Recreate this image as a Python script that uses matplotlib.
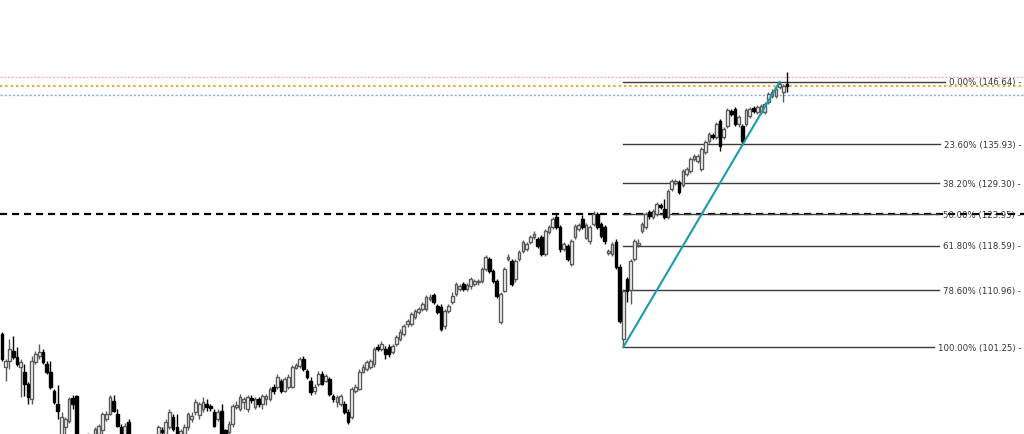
import matplotlib
matplotlib.use("Agg")
import matplotlib.pyplot as plt
import matplotlib.transforms as mtransforms
import numpy as np

opens = [103.47, 97.83, 98.86, 100.57, 99.54, 97.83, 96.98, 94.92, 92.35, 98.69,
         99.71, 100.4, 98.35, 96.98, 93.72, 91.5, 86.19, 87.55, 88.59, 92.52,
         92.86, 84.13, 85.16, 83.79, 84.65, 85.84, 86.36, 87.04, 88.93, 89.78,
         92.01, 89.78, 87.55, 86.19, 88.42, 85.84, 84.47, 83.45, 84.47, 82.93,
         84.3, 85.16, 86.36, 87.04, 86.36, 87.55, 89.27, 87.55, 85.5, 86.36,
         87.55, 88.93, 90.13, 89.61, 90.64, 91.5, 91.16, 90.13, 88.93, 90.3,
         87.04, 86.7, 88.07, 90.98, 90.64, 91.84, 90.64, 92.52, 90.98, 92.35,
         91.5, 92.35, 92.35, 94.4, 94.4, 95.43, 93.72, 94.4, 94.4, 97.66,
         98.0, 99.2, 97.15, 95.43, 93.72, 94.92, 96.63, 95.43, 95.77, 92.86,
         91.84, 91.5, 91.5, 90.13, 89.27, 93.72, 94.06, 96.98, 97.49, 97.83,
         98.35, 101.25, 100.91, 100.91, 101.25, 100.4, 101.76, 102.62, 103.47, 105.2,
         105.2, 106.39, 107.25, 107.76, 107.76, 109.47, 110.15, 108.27, 108.1, 104.84,
         107.42, 108.96, 110.32, 111.18, 112.03, 111.18, 111.69, 112.03, 112.38, 112.55,
         114.61, 116.32, 114.27, 112.55, 105.54, 110.84, 116.32, 115.98, 112.89, 116.32,
         117.68, 118.03, 119.23, 120.08, 119.74, 120.08, 117.17, 120.94, 121.8, 123.51,
         121.8, 118.03, 118.54, 115.47, 120.08, 121.45, 123.17, 119.91, 119.4, 122.31,
         124.02, 122.31, 121.8, 117.34, 117.17, 119.23, 114.95, 102.62, 112.89, 111.01,
         116.32, 118.71, 121.11, 121.8, 124.37, 123.51, 124.02, 125.57, 124.88, 123.51,
         128.3, 129.33, 129.5, 128.99, 130.87, 131.38, 133.44, 133.1, 131.73, 134.61,
         136.52, 137.55, 137.21, 139.95, 137.21, 139.1, 141.66, 142.0, 139.44, 139.1,
         139.44, 140.8, 142.17, 141.48, 141.48, 141.48, 143.2, 144.23, 144.23, 145.76,
         144.91, 146.27]

highs = [103.82, 99.2, 102.62, 103.13, 101.25, 99.2, 98.35, 95.26, 99.71, 100.57,
         101.76, 100.91, 98.86, 98.86, 94.06, 94.75, 90.13, 89.27, 92.69, 93.03,
         93.03, 85.84, 86.19, 86.53, 86.19, 87.55, 88.07, 90.13, 90.3, 93.03,
         93.03, 90.64, 88.07, 88.25, 88.93, 86.36, 85.5, 85.16, 85.16, 84.99,
         86.02, 86.19, 87.89, 87.55, 88.93, 90.64, 89.78, 89.78, 87.21, 88.07,
         90.13, 90.13, 92.35, 91.84, 92.69, 92.35, 91.5, 90.64, 90.64, 91.5,
         87.21, 88.59, 91.5, 92.01, 93.2, 92.69, 93.03, 93.03, 92.69, 92.69,
         93.2, 93.2, 94.4, 94.92, 96.63, 95.77, 96.12, 96.63, 98.17, 98.52,
         99.54, 99.71, 97.49, 96.12, 94.92, 97.15, 97.15, 96.63, 96.12, 93.2,
         93.03, 93.2, 92.01, 90.64, 94.4, 94.92, 97.49, 98.35, 99.03, 99.2,
         101.25, 101.76, 102.28, 101.42, 101.76, 101.76, 103.3, 104.33, 105.2, 106.05,
         107.25, 107.76, 108.1, 108.96, 110.15, 110.32, 110.49, 108.61, 108.61, 107.76,
         108.61, 110.66, 112.38, 112.03, 112.38, 112.2, 113.23, 112.89, 112.89, 114.95,
         117.0, 116.66, 114.61, 112.89, 110.66, 114.95, 117.17, 116.32, 116.32, 117.85,
         119.57, 119.23, 120.42, 121.11, 120.08, 120.42, 121.45, 122.14, 123.51, 124.02,
         122.14, 119.23, 118.88, 119.74, 122.31, 122.48, 123.85, 122.48, 122.14, 124.54,
         124.37, 122.65, 122.14, 118.03, 119.23, 119.74, 115.47, 111.18, 113.23, 116.32,
         119.74, 119.74, 122.65, 124.37, 124.71, 124.88, 126.08, 125.91, 126.59, 128.3,
         130.01, 130.01, 129.84, 131.73, 132.07, 133.78, 134.29, 134.29, 135.49, 136.69,
         138.06, 137.89, 139.78, 140.29, 138.91, 142.17, 142.0, 142.34, 140.97, 139.44,
         142.17, 142.34, 142.51, 142.68, 142.86, 143.2, 144.91, 145.42, 145.76, 146.64,
         146.27, 148.33]

lows = [98.86, 95.43, 97.49, 99.2, 98.0, 92.69, 92.86, 91.5, 91.5, 98.35,
        99.2, 98.35, 96.63, 94.06, 91.5, 88.93, 85.5, 86.36, 88.25, 90.64,
        83.79, 83.45, 83.45, 82.93, 83.79, 84.65, 85.5, 86.19, 88.59, 89.61,
        90.13, 87.55, 85.5, 85.5, 85.16, 83.79, 82.76, 82.42, 82.08, 82.42,
        83.79, 84.47, 85.5, 85.84, 85.84, 87.21, 86.87, 85.5, 84.82, 85.84,
        87.04, 88.42, 89.61, 88.93, 90.13, 90.3, 90.3, 87.55, 88.59, 85.5,
        85.5, 86.19, 87.55, 90.64, 90.3, 90.64, 90.13, 91.67, 90.64, 90.98,
        90.64, 91.33, 92.01, 93.2, 94.06, 93.38, 93.55, 94.06, 94.23, 97.49,
        97.66, 97.15, 95.77, 93.03, 93.2, 94.57, 94.75, 95.26, 92.86, 91.84,
        90.98, 91.16, 89.78, 88.07, 88.93, 93.38, 93.89, 96.8, 97.15, 97.49,
        97.83, 100.57, 100.57, 99.2, 99.54, 100.06, 101.42, 102.28, 103.13, 104.67,
        104.84, 106.05, 106.9, 107.42, 107.42, 109.13, 108.61, 106.9, 103.99, 104.33,
        107.08, 108.61, 109.98, 110.84, 110.84, 110.84, 111.18, 111.69, 111.86, 112.2,
        114.27, 113.92, 112.2, 109.64, 105.2, 110.66, 115.98, 111.69, 112.38, 115.98,
        117.34, 117.68, 118.88, 119.74, 118.2, 116.83, 116.83, 120.59, 121.45, 121.45,
        117.51, 117.68, 115.98, 115.12, 119.74, 121.11, 121.45, 119.74, 118.88, 121.97,
        121.45, 119.91, 118.88, 117.0, 116.83, 114.61, 105.37, 101.25, 108.96, 108.61,
        115.98, 118.37, 120.77, 121.45, 123.17, 123.17, 123.68, 124.88, 123.17, 123.17,
        127.96, 128.99, 127.45, 128.64, 130.53, 131.04, 133.1, 132.76, 131.38, 134.29,
        136.18, 136.86, 136.86, 134.81, 136.86, 138.74, 140.8, 139.1, 138.91, 136.01,
        139.1, 140.46, 141.31, 141.14, 141.14, 141.14, 142.86, 143.88, 143.88, 145.42,
        143.2, 144.91]

closes = [99.2, 98.86, 100.91, 99.54, 98.35, 98.69, 94.92, 92.69, 98.86, 100.06,
          100.4, 98.69, 96.98, 94.4, 91.84, 90.3, 89.27, 88.93, 92.35, 91.5,
          84.65, 85.16, 84.3, 85.5, 85.84, 87.21, 87.72, 89.78, 89.78, 92.69,
          90.3, 87.72, 86.19, 87.72, 85.84, 84.47, 83.45, 84.65, 82.93, 84.47,
          85.5, 86.02, 87.55, 86.7, 88.42, 90.13, 87.21, 86.02, 86.87, 87.55,
          89.78, 89.44, 91.84, 91.5, 91.84, 90.98, 90.81, 87.72, 90.13, 86.36,
          86.19, 88.07, 91.16, 91.33, 92.69, 92.35, 92.69, 92.18, 92.35, 91.5,
          92.86, 92.86, 94.06, 93.72, 96.12, 93.72, 95.77, 96.12, 97.83, 98.17,
          99.2, 97.49, 96.12, 93.55, 94.4, 96.63, 94.92, 96.29, 93.2, 92.35,
          92.69, 92.86, 90.13, 88.42, 94.06, 94.4, 96.98, 97.83, 98.69, 98.86,
          100.91, 100.91, 101.76, 100.06, 100.06, 101.42, 102.96, 103.82, 104.84, 105.71,
          106.9, 107.42, 107.76, 108.61, 109.81, 109.81, 108.96, 107.25, 104.33, 107.42,
          108.27, 109.98, 112.03, 111.69, 111.18, 111.86, 112.89, 112.55, 112.55, 114.61,
          116.66, 114.27, 112.55, 109.98, 110.32, 114.61, 116.66, 112.03, 115.98, 117.51,
          119.23, 118.88, 120.08, 120.59, 118.54, 117.17, 121.11, 121.8, 123.17, 121.8,
          118.03, 118.88, 116.32, 119.4, 121.97, 122.14, 121.8, 122.14, 121.8, 124.02,
          121.8, 120.25, 119.4, 117.68, 118.88, 114.95, 105.71, 110.84, 110.84, 115.98,
          119.4, 119.06, 122.31, 124.02, 123.68, 124.54, 125.74, 125.23, 123.51, 127.96,
          129.67, 129.67, 127.79, 131.38, 131.73, 133.44, 133.95, 133.95, 135.15, 136.35,
          137.72, 137.21, 139.44, 135.66, 138.57, 141.83, 141.14, 139.44, 140.63, 136.52,
          141.83, 142.0, 141.66, 142.34, 142.51, 142.86, 144.57, 144.91, 145.42, 146.27,
          145.93, 145.93]

fib_ratios = ["0.00%", "23.60%", "38.20%", "50.00%", "61.80%", "78.60%", "100.00%"]
fib_prices = [146.64, 135.93, 129.30, 123.95, 118.59, 110.96, 101.25]
fib_start_index = 167      # swing low candle
fib_end_index = 209        # swing high candle
pink_level = 147.47
orange_level = 145.93
blue_level = 144.39
dashed_level = 123.95

n = len(closes)
assert len(opens) == len(highs) == len(lows) == n
x = np.arange(n)
o = np.array(opens); c = np.array(closes); h = np.array(highs); l = np.array(lows)
up = c >= o

fig = plt.figure(figsize=(10.24, 4.35), dpi=100)
ax = fig.add_axes([0, 0, 1, 1])
ax.axis("off")
ax.set_xlim(-0.54, 274.7)
ax.set_ylim(86.36, 160.83)

# horizontal reference lines
ax.axhline(pink_level, color="#f4a3ad", lw=0.9, ls=(0, (1.5, 1.5)), zorder=1)
ax.axhline(orange_level, color="#f3a93a", lw=1.6, ls=(0, (1, 1.4)), zorder=1)
ax.axhline(blue_level, color="#7ea6f2", lw=1.0, ls=(0, (1.5, 1.5)), zorder=1)
ax.axhline(dashed_level, color="black", lw=1.6, ls=(0, (3.2, 2.2)), zorder=1)

# candles
wick_colors = np.where(up, "#5a5a5a", "#000000")
ax.vlines(x, l, h, colors=wick_colors, lw=1.0, zorder=2)
body_bottom = np.minimum(o, c)
body_height = np.maximum(np.abs(c - o), 0.2)
ax.bar(x[up], body_height[up], bottom=body_bottom[up], width=0.72,
       color="white", edgecolor="#5a5a5a", linewidth=1.0, zorder=3)
ax.bar(x[~up], body_height[~up], bottom=body_bottom[~up], width=0.72,
       color="black", edgecolor="black", linewidth=1.0, zorder=3)

# fib labels
trans = mtransforms.blended_transform_factory(ax.transAxes, ax.transData)
texts = []
for r, p in zip(fib_ratios, fib_prices):
    t = ax.text(1021 / 1024, p, f"{r} ({p:.2f}) -", transform=trans,
                ha="right", va="center", fontsize=6.8, color="#333333",
                fontstretch="condensed", zorder=5)
    texts.append(t)

fig.canvas.draw()
renderer = fig.canvas.get_renderer()
inv = ax.transData.inverted()
for t, p in zip(texts, fib_prices):
    bb = t.get_window_extent(renderer)
    x_end = inv.transform((bb.x0 - 4, 0))[0]
    ax.plot([fib_start_index, x_end], [p, p], color="#3c3c3c", lw=1.0, zorder=1.5)

# trend line from swing low to swing high
ax.plot([fib_start_index, fib_end_index], [fib_prices[-1], fib_prices[0]],
        color="#1b9bad", lw=1.5, zorder=4)

fig.savefig("out.png", dpi=100, facecolor="white")
